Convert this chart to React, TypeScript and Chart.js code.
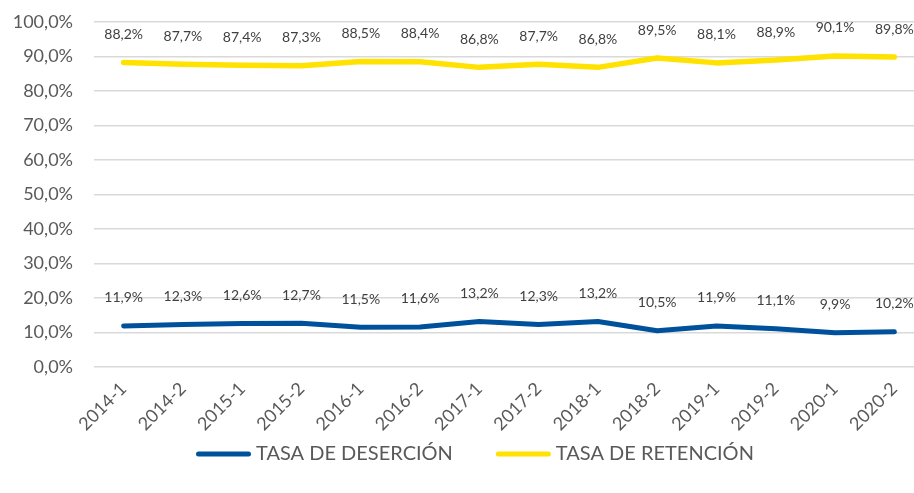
import React, { useEffect, useRef } from "react";
import { Chart, registerables } from "chart.js";

Chart.register(...registerables);

const categories = ["2014-1","2014-2","2015-1","2015-2","2016-1","2016-2","2017-1","2017-2","2018-1","2018-2","2019-1","2019-2","2020-1","2020-2"];
const desercion = [11.9,12.3,12.6,12.7,11.5,11.6,13.2,12.3,13.2,10.5,11.9,11.1,9.9,10.2];
const retencion = [88.2,87.7,87.4,87.3,88.5,88.4,86.8,87.7,86.8,89.5,88.1,88.9,90.1,89.8];
const seriesNames = ["TASA DE DESERCIÓN","TASA DE RETENCIÓN"];
const seriesColors = ["#00519C", "#FFE200"];

const FONT = "Lato, 'Open Sans', sans-serif";
const SHIFT = 10;
const fmt = (v: number) => v.toFixed(1).replace(".", ",") + "%";

const labelPlugin = {
  id: "valueLabels",
  afterDatasetsDraw(chart: any) {
    const ctx = chart.ctx;
    ctx.save();
    ctx.font = `14px ${FONT}`;
    ctx.fillStyle = "#404040";
    ctx.textAlign = "center";
    ctx.textBaseline = "middle";
    chart.data.datasets.forEach((ds: any, i: number) => {
      const meta = chart.getDatasetMeta(i);
      meta.data.forEach((pt: any, j: number) => {
        ctx.fillText(fmt(ds.data[j]), pt.x, pt.y - 28);
      });
    });
    ctx.restore();
  },
};

const legendPlugin = {
  id: "customLegend",
  afterDraw(chart: any) {
    const ctx = chart.ctx;
    ctx.save();
    ctx.font = `20px ${FONT}`;
    ctx.textBaseline = "middle";
    const sample = 55, gapText = 5, gapItem = 43;
    const widths = seriesNames.map((n) => ctx.measureText(n).width);
    let x = 196;
    const y = 454 + SHIFT;
    seriesNames.forEach((n, i) => {
      ctx.strokeStyle = seriesColors[i];
      ctx.lineWidth = 5;
      ctx.lineCap = "round";
      ctx.beginPath();
      ctx.moveTo(x + 2.5, y);
      ctx.lineTo(x + sample - 2.5, y);
      ctx.stroke();
      ctx.fillStyle = "#595959";
      ctx.textAlign = "left";
      ctx.fillText(n, x + sample + gapText, y);
      x += sample + gapText + widths[i] + gapItem;
    });
    ctx.restore();
  },
};

export default function App() {
  const ref = useRef<HTMLCanvasElement>(null);
  useEffect(() => {
    document.body.style.margin = "0";
    const chart = new Chart(ref.current!, {
      type: "line",
      data: {
        labels: categories,
        datasets: [
          { label: seriesNames[0], data: desercion, borderColor: seriesColors[0], backgroundColor: seriesColors[0], borderWidth: 5, pointRadius: 0, borderCapStyle: "round", borderJoinStyle: "round", tension: 0 },
          { label: seriesNames[1], data: retencion, borderColor: seriesColors[1], backgroundColor: seriesColors[1], borderWidth: 5.5, pointRadius: 0, borderCapStyle: "round", borderJoinStyle: "round", tension: 0 },
        ],
      },
      options: {
        animation: false,
        responsive: false,
        layout: { padding: { top: 1, left: 0, right: 0, bottom: 0 } },
        plugins: {
          legend: { display: false },
          tooltip: { enabled: false },
        },
        scales: {
          x: {
            offset: true,
            afterFit: (s: any) => { s.height = 126; },
            grid: { display: false },
            border: { display: false },
            ticks: { font: { size: 18, family: FONT }, color: "#595959", maxRotation: 45, minRotation: 45, autoSkip: false },
          },
          y: {
            min: 0,
            max: 100,
            afterFit: (s: any) => { s.width = 94; },
            border: { display: false },
            grid: { color: "#d9d9d9", lineWidth: 1.5, drawTicks: false },
            ticks: { stepSize: 10, font: { size: 18, family: FONT }, color: "#595959", padding: 21, callback: (v: any) => fmt(Number(v)) },
          },
        },
      },
      plugins: [labelPlugin, legendPlugin],
    });
    return () => chart.destroy();
  }, []);
  return (
    <div style={{ width: 914, height: 493, overflow: "hidden", position: "relative" }}>
      <canvas ref={ref} width={924} height={493 + SHIFT} style={{ width: 924, height: 493 + SHIFT, display: "block", position: "absolute", left: 0, top: -SHIFT }} />
    </div>
  );
}
